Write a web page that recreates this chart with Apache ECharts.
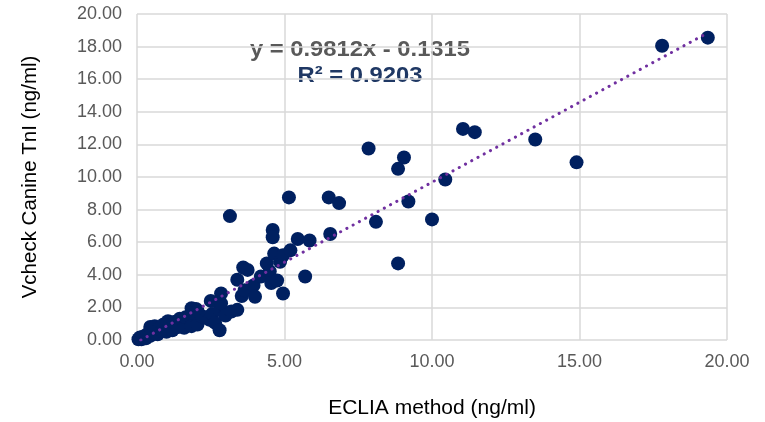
<!DOCTYPE html>
<html>
<head>
<meta charset="utf-8">
<script src="https://cdn.jsdelivr.net/npm/echarts@6/dist/echarts.min.js"></script>
<style>html,body{margin:0;padding:0;background:#fff;}#c{width:765px;height:422px;}</style>
</head>
<body>
<div id="c"></div>
<script>
const xTicks = ['0.00','5.00','10.00','15.00','20.00'];
const yTicks = ['0.00','2.00','4.00','6.00','8.00','10.00','12.00','14.00','16.00','18.00','20.00'];
const points = [
 [0.05,0.05],[0.1,0.15],[0.15,0.05],[0.2,0.2],[0.3,0.1],[0.35,0.35],[0.45,0.25],[0.45,0.8],[0.5,0.6],[0.55,0.45],
 [0.6,0.85],[0.7,0.35],[0.75,0.7],[0.85,0.55],[0.9,0.95],[1.0,0.5],[1.05,1.15],[1.2,0.6],[1.25,1.1],[1.4,0.8],
 [1.45,1.3],[1.6,0.75],[1.65,1.4],[1.8,1.5],[1.85,0.85],[1.85,1.95],[2.0,1.9],[2.05,1.8],[2.05,0.95],[2.2,1.45],
 [2.35,1.4],[2.45,1.25],[2.5,2.4],[2.55,1.6],[2.65,1.05],[2.8,1.85],[2.8,0.6],[2.85,2.25],[2.85,2.85],[3.0,1.5],
 [3.2,1.75],[3.4,1.85],[3.4,3.7],[3.55,2.7],[3.6,4.45],[3.65,3.05],[3.75,4.3],[3.95,3.35],[4.0,2.65],[4.2,3.9],
 [4.4,4.7],[4.5,4.2],[4.55,3.5],[4.6,6.75],[4.6,6.3],[4.65,5.3],[4.75,3.65],[4.85,4.8],[4.95,2.85],[4.95,5.2],
 [5.15,8.75],[5.2,5.5],[5.45,6.2],[5.7,3.9],[5.85,6.1],[6.5,8.75],[6.55,6.5],[6.85,8.4],[3.15,7.6],[7.85,11.75],
 [8.1,7.25],[8.85,10.5],[8.85,4.7],[9.05,11.2],[9.2,8.5],[10.0,7.4],[10.45,9.85],[11.05,12.95],[11.45,12.75],[13.5,12.3],
 [14.9,10.9],[17.8,18.05],[19.35,18.55]
];
const trendEnds = [[0.13,0.0],[19.2,18.7]];
const eqText = 'y = 0.9812x - 0.1315';
const r2Text = 'R² = 0.9203';

const chart = echarts.init(document.getElementById('c'), null, {renderer:'canvas'});
const font = 'Arial, "Liberation Sans", sans-serif';
chart.setOption({
  animation:false,
  grid:{left:137,right:38,top:14,bottom:82,containLabel:false,outerBoundsMode:'none'},
  xAxis:{type:'value',min:0,max:20,interval:5,
    name:'ECLIA method (ng/ml)',nameLocation:'middle',nameGap:58,
    nameTextStyle:{fontFamily:font,fontSize:21,color:'#000'},
    axisLine:{show:false},axisTick:{show:false},
    axisLabel:{fontFamily:font,fontSize:18,color:'#595959',margin:13,formatter:v=>xTicks[Math.round(v/5)]},
    splitLine:{show:true,lineStyle:{color:'#d9d9d9',width:1.5}}},
  yAxis:{type:'value',min:0,max:20,interval:2,
    name:'Vcheck Canine TnI (ng/ml)',nameLocation:'middle',nameGap:96,
    nameTextStyle:{fontFamily:font,fontSize:20.5,color:'#000'},
    axisLine:{show:false},axisTick:{show:false},
    axisLabel:{fontFamily:font,fontSize:18,color:'#595959',margin:15,formatter:v=>yTicks[Math.round(v/2)]},
    splitLine:{show:true,lineStyle:{color:'#d9d9d9',width:1.5}}},
  series:[
    {type:'scatter',data:points,symbolSize:14,itemStyle:{color:'#002060',opacity:1},z:2},
    {type:'line',data:trendEnds,symbol:'none',z:3,clip:true,
      lineStyle:{color:'#7030a0',width:3,type:[0.1,7],cap:'round'}}
  ],
  graphic:[
    {type:'text',x:360,y:50,scaleX:1.08,style:{text:eqText,x:0,y:0,align:'center',verticalAlign:'middle',font:'bold 22px '+font,fill:'#595959'}},
    {type:'text',x:360,y:76,scaleX:1.08,style:{text:r2Text,x:0,y:0,align:'center',verticalAlign:'middle',font:'bold 22px '+font,fill:'#1f3864'}}
  ]
});
</script>
</body>
</html>
